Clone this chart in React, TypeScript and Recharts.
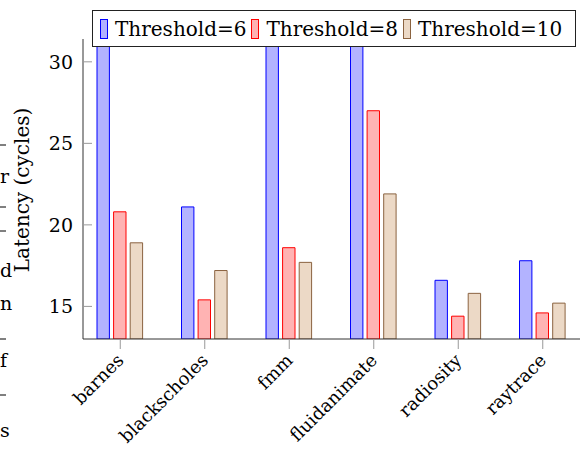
import React from "react";
import { BarChart, Bar, XAxis, YAxis, Legend } from "recharts";

const benchmarks = ["barnes", "blackscholes", "fmm", "fluidanimate", "radiosity", "raytrace"];
// T6 values for barnes, fmm and fluidanimate run past the top of the axis
const threshold6 = [40, 21.1, 40, 40, 16.6, 17.8];
const threshold8 = [20.8, 15.4, 18.6, 27.0, 14.4, 14.6];
const threshold10 = [18.9, 17.2, 17.7, 21.9, 15.8, 15.2];
const yTicks = [15, 20, 25, 30];

// stray marks on the far left edge of the picture
const edgeLetters = [
  { t: "r", y: 176 },
  { t: "d", y: 270 },
  { t: "n", y: 303 },
  { t: "f", y: 360 },
  { t: "s", y: 430 },
];
const edgeDashes = [145, 207, 231, 339, 395];

const series = [
  { key: "t6", name: "Threshold=6", fill: "#b3b3ff", stroke: "#0000ff" },
  { key: "t8", name: "Threshold=8", fill: "#ffb3b3", stroke: "#ff0000" },
  { key: "t10", name: "Threshold=10", fill: "#ecd9c6", stroke: "#8b6340" },
];

const FONT = "'DejaVu Serif', serif";

const data = benchmarks.map((b, i) => ({
  name: b,
  t6: threshold6[i],
  t8: threshold8[i],
  t10: threshold10[i],
}));

function XTick(props: any) {
  const { x, y, payload } = props;
  const ax = x - 5;
  const ay = y + 1;
  return (
    <text
      x={ax}
      y={ay}
      transform={`rotate(-45, ${ax}, ${ay})`}
      textAnchor="end"
      dy="0.75em"
      fontFamily={FONT}
      fontSize={18}
      fill="#000"
    >
      {payload.value}
    </text>
  );
}

function LegendBox() {
  return (
    <div
      style={{
        border: "1px solid #222",
        background: "#fff",
        display: "flex",
        alignItems: "center",
        height: 37,
        width: 484,
        boxSizing: "border-box",
        paddingLeft: 7,
        fontFamily: FONT,
        fontSize: 20,
        color: "#000",
      }}
    >
      {series.map((s) => (
        <div key={s.key} style={{ display: "flex", alignItems: "center", marginRight: 5 }}>
          <span
            style={{
              display: "inline-block",
              width: 6,
              height: 18,
              background: s.fill,
              border: `1px solid ${s.stroke}`,
              marginRight: 7,
            }}
          />
          <span>{s.name}</span>
        </div>
      ))}
    </div>
  );
}

function LeftDecor() {
  return (
    <g>
      <text
        x={22}
        y={190}
        transform="rotate(-90, 22, 190)"
        textAnchor="middle"
        dominantBaseline="central"
        fontFamily={FONT}
        fontSize={20}
        fill="#000"
      >
        Latency (cycles)
      </text>
      {edgeLetters.map((l) => (
        <text
          key={l.t + l.y}
          x={0}
          y={l.y}
          textAnchor="start"
          dominantBaseline="central"
          fontFamily={FONT}
          fontSize={19}
          fill="#000"
        >
          {l.t}
        </text>
      ))}
      {edgeDashes.map((y) => (
        <line key={y} x1={0} x2={6} y1={y} y2={y} stroke="#000" strokeWidth={1} />
      ))}
    </g>
  );
}

export default function App() {
  return (
    <div style={{ position: "absolute", left: 0, top: 0, background: "#fff" }}>
      <BarChart
        width={580}
        height={450}
        data={data}
        margin={{ top: 39, right: 0, left: 0, bottom: 0 }}
        barSize={12.4}
        barGap={4.2}
      >
        <XAxis
          dataKey="name"
          height={111}
          interval={0}
          padding={{ left: -5, right: -5 }}
          axisLine={{ stroke: "#333" }}
          tickLine={{ stroke: "#999" }}
          tickSize={10}
          tick={<XTick />}
        />
        <XAxis
          xAxisId="top"
          dataKey="name"
          orientation="top"
          height={0}
          tick={false}
          tickLine={false}
          axisLine={{ stroke: "#333" }}
        />
        <YAxis
          width={83}
          domain={[13, 31.4]}
          ticks={yTicks}
          allowDataOverflow
          axisLine={{ stroke: "#333" }}
          tickLine={{ stroke: "#999" }}
          tickSize={-9}
          tickMargin={19}
          tick={{ fontFamily: FONT, fontSize: 19, fill: "#000" }}
          label={{ content: () => <LeftDecor /> }}
        />
        <YAxis
          yAxisId="right"
          orientation="right"
          width={0}
          domain={[13, 31.4]}
          ticks={yTicks}
          allowDataOverflow
          axisLine={{ stroke: "#333" }}
          tickLine={{ stroke: "#999" }}
          tickSize={-9}
          tick={false}
        />
        <Legend
          layout="vertical"
          align="center"
          verticalAlign="middle"
          wrapperStyle={{ left: 92, top: 10, width: 486 }}
          content={() => <LegendBox />}
        />
        {series.map((s) => (
          <Bar
            key={s.key}
            dataKey={s.key}
            name={s.name}
            fill={s.fill}
            stroke={s.stroke}
            strokeWidth={1}
            isAnimationActive={false}
          />
        ))}
      </BarChart>
    </div>
  );
}
